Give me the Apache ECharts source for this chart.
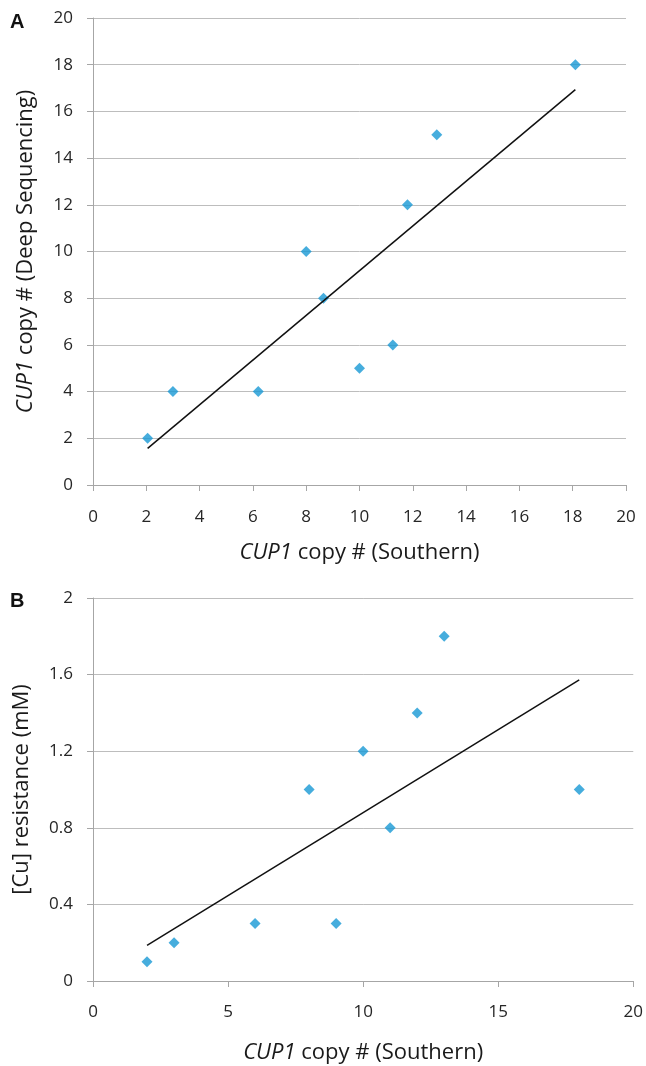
<!DOCTYPE html>
<html>
<head>
<meta charset="utf-8">
<script src="https://cdn.jsdelivr.net/npm/echarts@6/dist/echarts.min.js"></script>
<style>
  html, body { margin: 0; padding: 0; background: #fff; }
  #chart { width: 646px; height: 1066px; }
</style>
</head>
<body>
<div id="chart"></div>
<script>
// panel A: Southern vs deep sequencing
const southernA = [2.05, 3.0, 6.2, 8.0, 8.65, 10.0, 11.25, 11.8, 12.9, 18.1];
const deepSeqA = [2, 4, 4, 10, 8, 5, 6, 12, 15, 18];
const trendA = [[2.05, 1.57], [18.1, 16.93]];

// panel B: Southern vs copper resistance
const southernB = [2, 3, 6, 8, 9, 10, 11, 12, 13, 18];
const resistB = [0.1, 0.2, 0.3, 1.0, 0.3, 1.2, 0.8, 1.4, 1.8, 1.0];
const trendB = [[2, 0.186], [18, 1.573]];

const font = '"Open Sans", Lato, sans-serif';
const blue = '#1898d5';

function pairs(xs, ys) {
  return xs.map(function (x, i) { return [x, ys[i]]; });
}

function xAxisCfg(gridIndex, interval) {
  return {
    gridIndex: gridIndex,
    type: 'value',
    min: 0,
    max: 20,
    interval: interval,
    name: '{i|CUP1} copy # (Southern)',
    nameLocation: 'middle',
    nameGap: gridIndex === 0 ? 57 : 61,
    nameTextStyle: {
      fontFamily: font, fontSize: 22, color: '#1a1a1a',
      rich: { i: { fontStyle: 'italic', fontFamily: font, fontSize: 22, color: '#1a1a1a' } }
    },
    axisLine: { show: true, lineStyle: { color: '#a6a6a6', width: 1 } },
    axisTick: { show: true, length: 6, lineStyle: { color: '#a6a6a6' } },
    axisLabel: { fontFamily: font, fontSize: 17, color: '#262626', margin: gridIndex === 0 ? 24 : 23 },
    splitLine: { show: false }
  };
}

function yAxisCfg(gridIndex, max, interval, name, rich, gap) {
  return {
    gridIndex: gridIndex,
    type: 'value',
    min: 0,
    max: max,
    interval: interval,
    name: name,
    nameLocation: 'middle',
    nameGap: gap,
    nameTextStyle: {
      fontFamily: font, fontSize: 22, color: '#1a1a1a',
      rich: rich ? { i: { fontStyle: 'italic', fontFamily: font, fontSize: 22, color: '#1a1a1a' } } : undefined
    },
    axisLine: { show: true, lineStyle: { color: '#a6a6a6', width: 1 } },
    axisTick: { show: true, length: 6, lineStyle: { color: '#a6a6a6' } },
    axisLabel: { fontFamily: font, fontSize: 17, color: '#262626', margin: 20 },
    splitLine: { show: true, lineStyle: { color: '#bdbdbd', width: 1 } }
  };
}

const myChart = echarts.init(document.getElementById('chart'), null, { renderer: 'canvas' });
myChart.setOption({
  animation: false,
  backgroundColor: '#fff',
  grid: [
    { left: 93, top: 18, width: 533, height: 467 },
    { left: 93, top: 598, width: 541, height: 383 }
  ],
  xAxis: [xAxisCfg(0, 2), xAxisCfg(1, 5)],
  yAxis: [
    yAxisCfg(0, 20, 2, '{i|CUP1} copy # (Deep Sequencing)', true, 56),
    yAxisCfg(1, 2, 0.4, '[Cu] resistance (mM)', false, 60)
  ],
  graphic: [
    { type: 'text', left: 10, top: 12, style: { text: 'A', font: 'bold 20px "Liberation Sans", Arial, sans-serif', fill: '#111' } },
    { type: 'text', left: 10, top: 591, style: { text: 'B', font: 'bold 20px "Liberation Sans", Arial, sans-serif', fill: '#111' } }
  ],
  series: [
    {
      type: 'scatter', xAxisIndex: 0, yAxisIndex: 0,
      data: pairs(southernA, deepSeqA),
      symbol: 'diamond', symbolSize: 11,
      itemStyle: { color: blue }
    },
    {
      type: 'line', xAxisIndex: 0, yAxisIndex: 0,
      data: trendA, showSymbol: false, symbol: 'none',
      lineStyle: { color: '#111', width: 1.5 }
    },
    {
      type: 'scatter', xAxisIndex: 1, yAxisIndex: 1,
      data: pairs(southernB, resistB),
      symbol: 'diamond', symbolSize: 11,
      itemStyle: { color: blue }
    },
    {
      type: 'line', xAxisIndex: 1, yAxisIndex: 1,
      data: trendB, showSymbol: false, symbol: 'none',
      lineStyle: { color: '#111', width: 1.5 }
    }
  ]
});
</script>
</body>
</html>
